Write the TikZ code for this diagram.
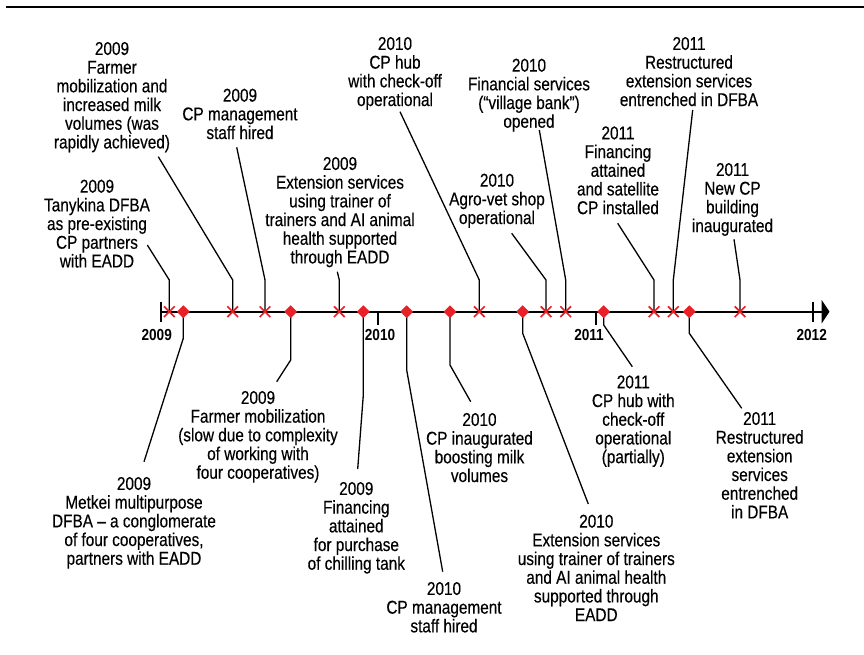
\documentclass[tikz,border=0pt]{standalone}
\usepackage{fontspec}
\setmainfont[FakeStretch=0.83,FakeBold=0.3]{Liberation Sans}
\newfontfamily\yrfont[FakeStretch=0.85]{Liberation Sans}
\usetikzlibrary{shapes.geometric,shapes.misc}
\definecolor{mkred}{RGB}{232,32,40}
\tikzset{
  lbl/.style={anchor=north, align=center, inner sep=0pt, font=\fontsize{18.5}{18.7}\selectfont},
  yr/.style={anchor=center, inner sep=0pt, font=\yrfont\fontsize{16}{16}\selectfont\bfseries},
  xm/.style={cross out, draw=mkred, line width=1.7pt, minimum size=9pt, inner sep=0pt},
  dm/.style={diamond, aspect=1, fill=mkred, minimum size=13pt, inner sep=0pt},
  leader/.style={line width=1.3pt},
  axisline/.style={line width=2pt},
}
\begin{document}
\begin{tikzpicture}[x=1pt,y=-1pt]
\useasboundingbox (0,0) rectangle (864,654);
\fill[white] (0,0) rectangle (864,654);
% top rule
\draw[line width=2.7pt] (6,7) -- (864,7);

% axis
\coordinate (ax0) at (160.7,311.7);
\coordinate (ax1) at (821.7,311.7);
\draw[axisline] (ax0) -- (ax1);
\fill (821.7,300) -- (829.5,311.7) -- (821.7,323.4) -- cycle;
% ticks
\coordinate (t09a) at (160.7,301.7); \coordinate (t09b) at (160.7,321.7);
\coordinate (t10a) at (377.7,311.7); \coordinate (t10b) at (377.7,325);
\coordinate (t11a) at (595.7,311.7); \coordinate (t11b) at (595.7,325);
\coordinate (t12a) at (812.7,301.7); \coordinate (t12b) at (812.7,321.7);
\draw[axisline] (t09a) -- (t09b) (t10a) -- (t10b) (t11a) -- (t11b) (t12a) -- (t12b);
\node[yr] (y09) at (156.7,335) {2009};
\node[yr] (y10) at (380,335) {2010};
\node[yr] (y11) at (589,335) {2011};
\node[yr] (y12) at (811.7,335) {2012};

% marker positions
\coordinate (p1) at (169.3,311.7);
\coordinate (p2) at (183.3,311.7);
\coordinate (p3) at (232.7,311.7);
\coordinate (p4) at (265,311.7);
\coordinate (p5) at (290.7,311.7);
\coordinate (p6) at (339.3,311.7);
\coordinate (p7) at (363.3,311.7);
\coordinate (p8) at (406.7,311.7);
\coordinate (p9) at (450,311.7);
\coordinate (p10) at (479.3,311.7);
\coordinate (p11) at (522.7,311.7);
\coordinate (p12) at (546,311.7);
\coordinate (p13) at (565.7,311.7);
\coordinate (p14) at (603.7,311.7);
\coordinate (p15) at (654,311.7);
\coordinate (p16) at (673.3,311.7);
\coordinate (p17) at (689.3,311.7);
\coordinate (p18) at (740,311.7);

% labels above
\node[lbl] (a1) at (97,179.5) {2009\\Tanykina DFBA\\as pre-existing\\CP partners\\with EADD};
\node[lbl] (a2) at (112,41.8) {2009\\Farmer\\mobilization and\\increased milk\\volumes (was\\rapidly achieved)};
\node[lbl] (a3) at (240,88.5) {2009\\CP management\\staff hired};
\node[lbl] (a4) at (340,156.8) {2009\\Extension services\\using trainer of\\trainers and AI animal\\health supported\\through EADD};
\node[lbl] (a5) at (395,36.8) {2010\\CP hub\\with check-off\\operational};
\node[lbl] (a6) at (529,58.5) {2010\\Financial services\\(“village bank”)\\opened};
\node[lbl] (a7) at (497,173.5) {2010\\Agro-vet shop\\operational};
\node[lbl] (a8) at (618,126.2) {2011\\Financing\\attained\\and satellite\\CP installed};
\node[lbl] (a9) at (689,36.8) {2011\\Restructured\\extension services\\entrenched in DFBA};
\node[lbl] (a10) at (732.5,162.8) {2011\\New CP\\building\\inaugurated};

% labels below
\node[lbl] (b1) at (134,476.8) {2009\\Metkei multipurpose\\DFBA – a conglomerate\\of four cooperatives,\\partners with EADD};
\node[lbl] (b2) at (258,390.8) {2009\\Farmer mobilization\\(slow due to complexity\\of working with\\four cooperatives)};
\node[lbl] (b3) at (356.3,481.8) {2009\\Financing\\attained\\for purchase\\of chilling tank};
\node[lbl] (b4) at (444,581.8) {2010\\CP management\\staff hired};
\node[lbl] (b5) at (479.5,412.8) {2010\\CP inaugurated\\boosting milk\\volumes};
\node[lbl] (b6) at (596.3,514.5) {2010\\Extension services\\using trainer of trainers\\and AI animal health\\supported through\\EADD};
\node[lbl] (b7) at (633.3,375.2) {2011\\CP hub with\\check-off\\operational\\(partially)};
\node[lbl] (b8) at (759.7,411.8) {2011\\Restructured\\extension\\services\\entrenched\\in DFBA};

% leader bends and ends
\coordinate (ka1) at (169.3,280);  \coordinate (ea1) at (147.3,245);
\coordinate (ka2) at (232.7,280);  \coordinate (ea2) at (158.3,156.7);
\coordinate (ka3) at (265,280);    \coordinate (ea3) at (236.7,147.3);
\coordinate (ka4) at (339.3,280);  \coordinate (ea4) at (337.3,271.7);
\coordinate (ka5) at (479.3,280);  \coordinate (ea5) at (400,111.7);
\coordinate (ka6) at (565.7,280);  \coordinate (ea6) at (539.3,130);
\coordinate (ka7) at (546,280);    \coordinate (ea7) at (511.7,233.3);
\coordinate (ka8) at (654,280);    \coordinate (ea8) at (617.7,223.3);
\coordinate (ka9) at (673.3,280);  \coordinate (ea9) at (692.7,110);
\coordinate (ka10) at (740,280);   \coordinate (ea10) at (734,239.3);
\coordinate (kb1) at (183.3,338.3); \coordinate (eb1) at (144,461.7);
\coordinate (kb2) at (290.7,360);   \coordinate (eb2) at (276.7,381.7);
\coordinate (kb3) at (363.3,395);   \coordinate (eb3) at (357.7,469);
\coordinate (kb4) at (406.7,370);   \coordinate (eb4) at (442.7,571.7);
\coordinate (kb5) at (450,365);     \coordinate (eb5) at (470.7,401.7);
\coordinate (kb6) at (522.7,333.3); \coordinate (eb6) at (588.3,504);
\coordinate (kb7) at (603.7,325);   \coordinate (eb7) at (632.3,366.7);
\coordinate (kb8) at (689.3,333.3); \coordinate (eb8) at (741.7,408.3);

\draw[leader] (p1) -- (ka1) -- (ea1);
\draw[leader] (p3) -- (ka2) -- (ea2);
\draw[leader] (p4) -- (ka3) -- (ea3);
\draw[leader] (p6) -- (ka4) -- (ea4);
\draw[leader] (p10) -- (ka5) -- (ea5);
\draw[leader] (p13) -- (ka6) -- (ea6);
\draw[leader] (p12) -- (ka7) -- (ea7);
\draw[leader] (p15) -- (ka8) -- (ea8);
\draw[leader] (p16) -- (ka9) -- (ea9);
\draw[leader] (p18) -- (ka10) -- (ea10);
\draw[leader] (p2) -- (kb1) -- (eb1);
\draw[leader] (p5) -- (kb2) -- (eb2);
\draw[leader] (p7) -- (kb3) -- (eb3);
\draw[leader] (p8) -- (kb4) -- (eb4);
\draw[leader] (p9) -- (kb5) -- (eb5);
\draw[leader] (p11) -- (kb6) -- (eb6);
\draw[leader] (p14) -- (kb7) -- (eb7);
\draw[leader] (p17) -- (kb8) -- (eb8);

% markers
\foreach \p in {p1,p3,p4,p6,p10,p12,p13,p15,p16,p18} {\node[xm] at (\p) {};}
\foreach \p in {p2,p5,p7,p8,p9,p11,p14,p17} {\node[dm] at (\p) {};}
\end{tikzpicture}
\end{document}
